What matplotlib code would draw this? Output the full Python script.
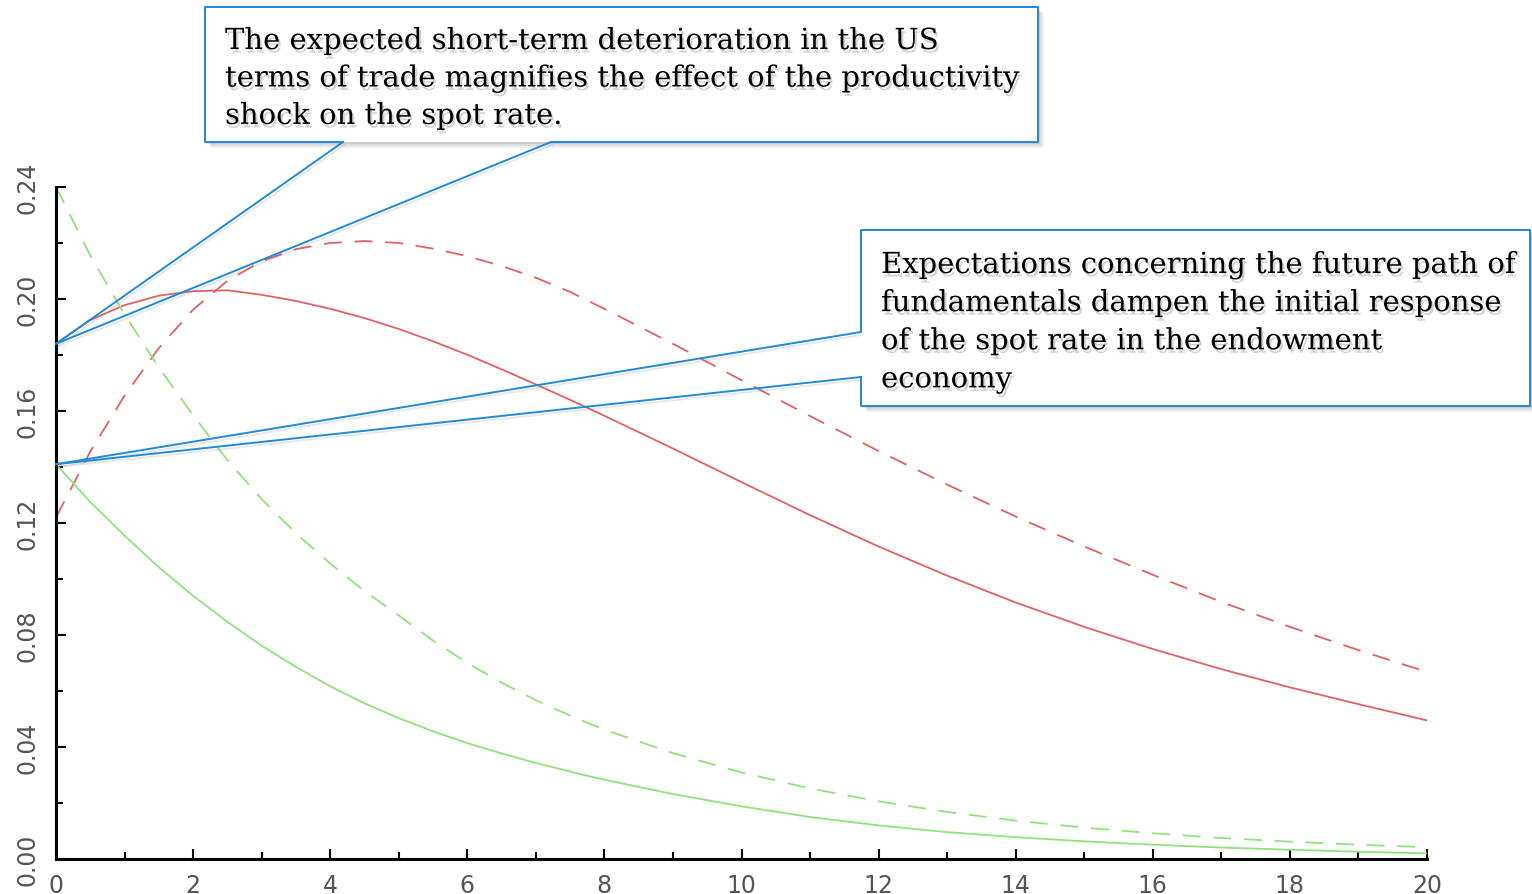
import numpy as np
import matplotlib.pyplot as plt
import matplotlib.patheffects as pe
from matplotlib.lines import Line2D
from matplotlib.patches import Rectangle

W, H = 1532, 895

# periods after the shock (half steps where the curves bend most)
periods = [0, 0.5, 1, 1.5, 2, 2.5, 3, 3.5, 4, 4.5, 5, 5.5, 6, 6.5, 7, 7.5, 8,
           9, 10, 11, 12, 13, 14, 15, 16, 17, 18, 19, 20]

# spot rate responses
red_solid = [0.184, 0.1925, 0.1978, 0.2012, 0.2028, 0.2031, 0.2015, 0.1993,
             0.1965, 0.1932, 0.1893, 0.1849, 0.1801, 0.1749, 0.1695, 0.1640,
             0.1583, 0.1466, 0.1346, 0.1228, 0.1116, 0.1012, 0.0916, 0.0829,
             0.0750, 0.0678, 0.0613, 0.0553, 0.0495]
red_dashed = [0.122, 0.1455, 0.1655, 0.1825, 0.1962, 0.2065, 0.2135, 0.2178,
              0.2200, 0.2207, 0.2200, 0.2180, 0.2153, 0.2118, 0.2076, 0.2025,
              0.1965, 0.1840, 0.1710, 0.1582, 0.1457, 0.1337, 0.1223, 0.1116,
              0.1015, 0.0918, 0.0829, 0.0746, 0.0668]
green_solid = [0.141, 0.1275, 0.1155, 0.1042, 0.0940, 0.0847, 0.0762, 0.0686,
               0.0617, 0.0556, 0.0503, 0.0456, 0.0414, 0.0377, 0.0343, 0.0312,
               0.0283, 0.0232, 0.0188, 0.0150, 0.0120, 0.0096, 0.0078, 0.0063,
               0.0051, 0.0041, 0.0033, 0.0026, 0.0020]
green_dashed = [0.240, 0.2155, 0.1945, 0.1755, 0.1585, 0.1425, 0.1285, 0.1163,
                0.1055, 0.0957, 0.0870, 0.0780, 0.0700, 0.0630, 0.0567, 0.0512,
                0.0462, 0.0378, 0.0309, 0.0252, 0.0206, 0.0168, 0.0137, 0.0112,
                0.0092, 0.0075, 0.0062, 0.0051, 0.0042]

note_top = ("The expected short-term deterioration in the US\n"
            "terms of trade magnifies the effect of the productivity\n"
            "shock on the spot rate.")
note_right = ("Expectations concerning the future path of\n"
              "fundamentals dampen the initial response\n"
              "of the spot rate in the endowment\n"
              "economy")

RED = "#e06262"
GREEN = "#8fe27c"
BLUE = "#1f8ad6"

fig = plt.figure(figsize=(W / 100, H / 100), dpi=100)
ax = fig.add_axes([56 / W, 35 / H, (1427 - 56) / W, (860 - 188) / H])

ax.plot(periods, red_solid, color=RED, lw=1.3)
ax.plot(periods, red_dashed, color=RED, lw=1.3, dashes=(10, 7))
ax.plot(periods, green_solid, color=GREEN, lw=1.3)
ax.plot(periods, green_dashed, color=GREEN, lw=1.3, dashes=(10, 7))

ax.set_xlim(0, 20)
ax.set_ylim(0, 0.24)
ax.set_xticks(np.arange(0, 21, 2))
ax.set_xticks(np.arange(1, 20, 2), minor=True)
ax.set_yticks(np.arange(0, 0.241, 0.04))
ax.set_yticks(np.arange(0.02, 0.24, 0.04), minor=True)
ax.set_yticklabels([f"{v:.2f}" for v in np.arange(0, 0.241, 0.04)],
                   rotation=90, va="center")
for s in ["top", "right"]:
    ax.spines[s].set_visible(False)
for s in ["left", "bottom"]:
    ax.spines[s].set_linewidth(2.2)
ax.tick_params(which="both", direction="in", width=1.5, colors="black",
               labelcolor="#555555", labelsize=17)
ax.tick_params(which="major", length=7)
ax.tick_params(which="minor", length=5)
ax.tick_params(axis="x", pad=10)
ax.tick_params(axis="y", pad=12)


def fig_pt(px, py):
    return px / W, 1 - py / H


def callout(outline, bases, tip, left, top, right, bottom):
    # soft shadow + white box
    for off, a in [(6, 0.12), (4, 0.18), (2, 0.22)]:
        sx, sy = fig_pt(left + off, bottom + off)
        fig.add_artist(Rectangle((sx, sy), (right - left) / W,
                                 (bottom - top) / H,
                                 transform=fig.transFigure,
                                 facecolor="#888888", alpha=a,
                                 edgecolor="none", zorder=4))
    bx, by = fig_pt(left, bottom)
    fig.add_artist(Rectangle((bx, by), (right - left) / W, (bottom - top) / H,
                             transform=fig.transFigure, facecolor="white",
                             edgecolor="none", zorder=5))
    pts = [fig_pt(*p) for p in outline]
    fig.add_artist(Line2D([p[0] for p in pts], [p[1] for p in pts],
                          transform=fig.transFigure, color=BLUE, lw=1.4,
                          zorder=6))
    shadow = [pe.SimpleLineShadow(offset=(1, -2), shadow_color="gray",
                                  alpha=0.18), pe.Normal()]
    for b in bases:
        bxy = fig_pt(*b)
        fig.add_artist(Line2D([bxy[0], tip[0]], [bxy[1], tip[1]],
                              transform=fig.transFigure, color=BLUE, lw=1.4,
                              zorder=6, path_effects=shadow))


def tip_of(x, y):
    disp = ax.transData.transform((x, y))
    return fig.transFigure.inverted().transform(disp)


tip1 = tip_of(periods[0], red_solid[0])
tip2 = tip_of(periods[0], green_solid[0])

callout([(343, 143), (205, 143), (205, 8), (1038, 8), (1038, 143), (551, 143)],
        [(343, 143), (551, 143)], tip1, 205, 8, 1038, 143)
callout([(861, 333), (861, 231), (1530, 231), (1530, 407), (861, 407), (861, 378)],
        [(861, 333), (861, 378)], tip2, 861, 231, 1530, 407)

txt_fx = [pe.withSimplePatchShadow(offset=(1.5, -2.5), shadow_rgbFace="gray",
                                   alpha=0.35)]
fig.text(225 / W, 1 - 28 / H, note_top, ha="left", va="top", fontsize=20.9,
         family="DejaVu Serif", linespacing=1.43, zorder=7, path_effects=txt_fx)
fig.text(881 / W, 1 - 252 / H, note_right, ha="left", va="top", fontsize=20.9,
         family="DejaVu Serif", linespacing=1.46, zorder=7, path_effects=txt_fx)

fig.savefig("out.png", dpi=100)
